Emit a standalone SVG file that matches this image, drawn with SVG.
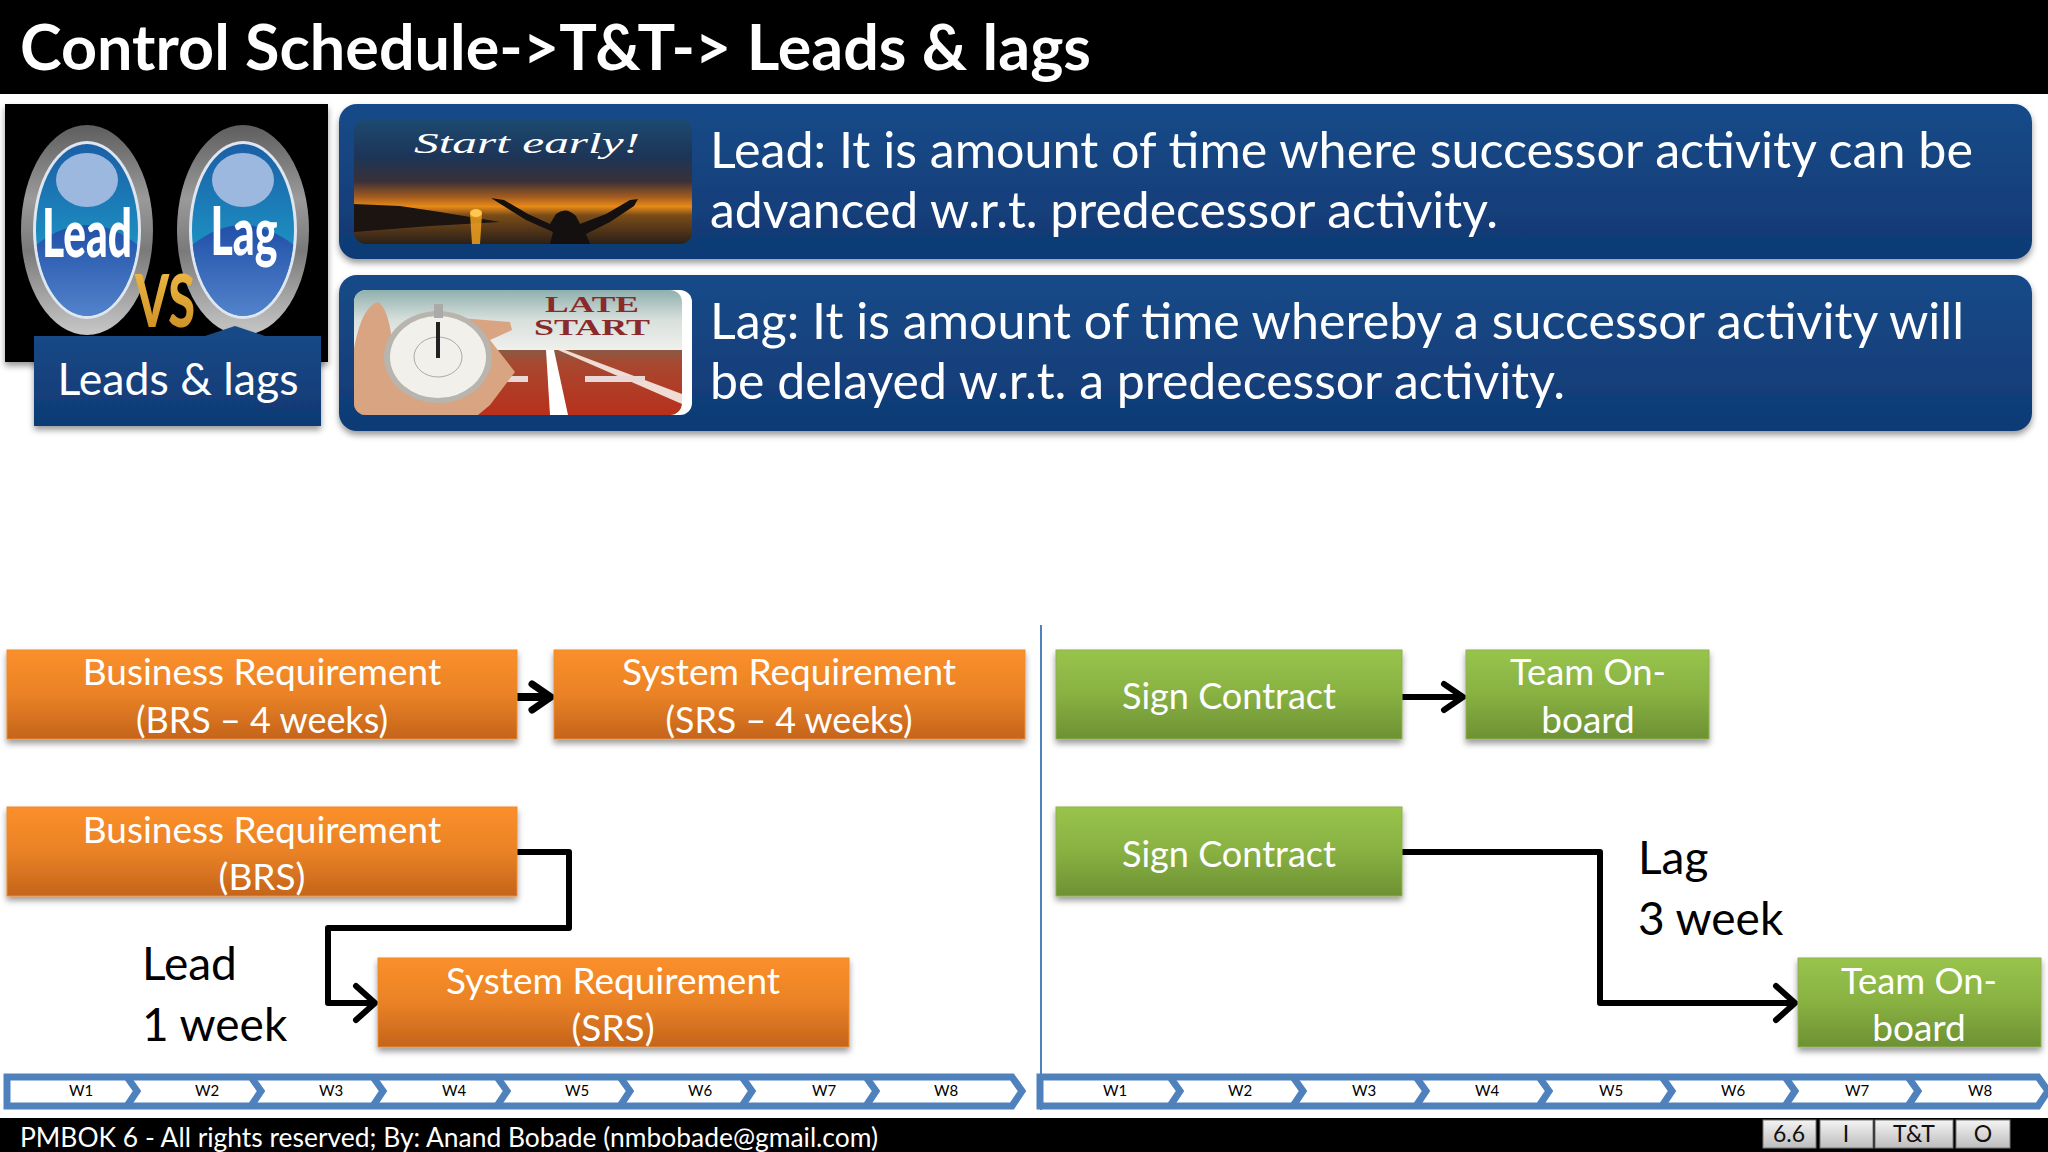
<svg xmlns="http://www.w3.org/2000/svg" width="2048" height="1152" viewBox="0 0 2048 1152">
<style>
text{font-family:"Lato","Open Sans","Liberation Sans",sans-serif}
.o{fill:url(#orange);stroke:#f08a2c;stroke-width:1;filter:url(#sh)}
.g{fill:url(#green);stroke:#90b050;stroke-width:1;filter:url(#sh)}
.bt{fill:#fff;font-size:37px;text-anchor:middle}
.pt{fill:#fff;font-size:50px}
.lb{fill:#000;font-size:46px}
.wk{fill:#000;font-size:15px;text-anchor:middle}
.tl{fill:#fff;stroke:#4f81bd;stroke-width:7}
.ch{fill:none;stroke:#4f81bd;stroke-width:7}
.cn{fill:none;stroke:#000;stroke-width:6;stroke-linejoin:round}
.ah{fill:none;stroke:#000;stroke-width:6;stroke-linecap:round;stroke-linejoin:miter}
.ft{fill:url(#btn);stroke:#777;stroke-width:1}
.ftt{fill:#111;font-size:23px;text-anchor:middle}
.sr{font-family:"Liberation Serif",serif}
</style>
<defs>
<linearGradient id="orange" x1="0" y1="0" x2="0" y2="1"><stop offset="0" stop-color="#fb8f2a"/><stop offset=".5" stop-color="#ea8226"/><stop offset="1" stop-color="#c4641b"/></linearGradient>
<linearGradient id="green" x1="0" y1="0" x2="0" y2="1"><stop offset="0" stop-color="#98c44c"/><stop offset=".5" stop-color="#88b142"/><stop offset="1" stop-color="#6d9133"/></linearGradient>
<linearGradient id="blue" x1="0" y1="0" x2="0" y2="1"><stop offset="0" stop-color="#174a88"/><stop offset="1" stop-color="#103a74"/></linearGradient>
<linearGradient id="btn" x1="0" y1="0" x2="0" y2="1"><stop offset="0" stop-color="#f4f4f4"/><stop offset="1" stop-color="#bdbdbd"/></linearGradient>
<linearGradient id="ring" x1="0" y1="0" x2="0" y2="1"><stop offset="0" stop-color="#5e5e5e"/><stop offset=".35" stop-color="#9a9a9a"/><stop offset=".6" stop-color="#7a7a7a"/><stop offset="1" stop-color="#c8c8c8"/></linearGradient>
<linearGradient id="ball" x1="0" y1="0" x2="0" y2="1"><stop offset="0" stop-color="#1b5fa6"/><stop offset=".55" stop-color="#1c8cc0"/><stop offset="1" stop-color="#1c8cc0"/></linearGradient>
<linearGradient id="ball2" x1="0" y1="0" x2="0" y2="1"><stop offset="0" stop-color="#2050a8"/><stop offset="1" stop-color="#5585cc"/></linearGradient>
<linearGradient id="vs" x1="0" y1="0" x2="0" y2="1"><stop offset="0" stop-color="#f4c04a"/><stop offset="1" stop-color="#c88a20"/></linearGradient>
<linearGradient id="sunset" x1="0" y1="0" x2="0" y2="1"><stop offset="0" stop-color="#1d4a70"/><stop offset=".3" stop-color="#1c3558"/><stop offset=".5" stop-color="#3a3038"/><stop offset=".62" stop-color="#a05a20"/><stop offset=".7" stop-color="#e88a18"/><stop offset=".77" stop-color="#7a4c18"/><stop offset="1" stop-color="#2a2018"/></linearGradient>
<linearGradient id="sky" x1="0" y1="0" x2="0" y2="1"><stop offset="0" stop-color="#8fb0ae"/><stop offset=".5" stop-color="#d8e0dc"/><stop offset="1" stop-color="#f0f0ec"/></linearGradient>
<linearGradient id="track" x1="0" y1="0" x2="0" y2="1"><stop offset="0" stop-color="#8a5a44"/><stop offset=".2" stop-color="#a84830"/><stop offset="1" stop-color="#b8301c"/></linearGradient>
<filter id="sh" x="-5%" y="-10%" width="110%" height="125%"><feDropShadow dx="0" dy="4" stdDeviation="3" flood-color="#000" flood-opacity=".4"/></filter>
<clipPath id="c1"><rect x="354" y="119" width="338" height="125" rx="12"/></clipPath>
<clipPath id="c2"><rect x="354" y="290" width="328" height="125" rx="12"/></clipPath>
<clipPath id="b1"><ellipse cx="87" cy="230" rx="51" ry="86"/></clipPath>
<clipPath id="b2"><ellipse cx="243" cy="230" rx="51" ry="86"/></clipPath>
</defs>
<rect width="2048" height="1152" fill="#fff"/>
<g id="title"><rect width="2048" height="94" fill="#000"/><text x="20" y="70" fill="#fff" font-size="63" font-weight="700" textLength="1071" lengthAdjust="spacingAndGlyphs">Control Schedule-&gt;T&amp;T-&gt; Leads &amp; lags</text></g>
<g id="lead-vs-lag">
<rect x="5" y="104" width="323" height="258" fill="#000" filter="url(#sh)"/>
<ellipse cx="87" cy="230" rx="66" ry="105" fill="url(#ring)"/><ellipse cx="87" cy="230" rx="54" ry="89" fill="#dfe6f0"/><ellipse cx="87" cy="230" rx="51" ry="86" fill="url(#ball)"/>
<path clip-path="url(#b1)" d="M30 250Q87 200 144 250V320H30Z" fill="url(#ball2)"/><ellipse cx="87" cy="180" rx="31" ry="27" fill="#9db8de"/>
<ellipse cx="243" cy="230" rx="66" ry="105" fill="url(#ring)"/><ellipse cx="243" cy="230" rx="54" ry="89" fill="#dfe6f0"/><ellipse cx="243" cy="230" rx="51" ry="86" fill="url(#ball)"/>
<path clip-path="url(#b2)" d="M186 250Q243 200 300 250V320H186Z" fill="url(#ball2)"/><ellipse cx="243" cy="180" rx="31" ry="27" fill="#9db8de"/>
<text x="87" y="257" fill="#fff" font-size="66" font-weight="900" text-anchor="middle" textLength="90" lengthAdjust="spacingAndGlyphs">Lead</text>
<text x="244" y="255" fill="#fff" font-size="66" font-weight="900" text-anchor="middle" textLength="67" lengthAdjust="spacingAndGlyphs">Lag</text>
<text x="165" y="327" fill="url(#vs)" font-size="72" font-weight="900" text-anchor="middle" textLength="60" lengthAdjust="spacingAndGlyphs">VS</text>
</g>
<g id="leads-lags-label"><path d="M34 336H205L235 326L265 336H321V426H34Z" fill="url(#blue)" filter="url(#sh)"/><text x="178" y="395" fill="#fff" font-size="45" text-anchor="middle" textLength="241" lengthAdjust="spacingAndGlyphs">Leads &amp; lags</text></g>
<g id="lead-panel"><rect x="339" y="104" width="1693" height="155" rx="18" fill="url(#blue)" filter="url(#sh)"/>
<g clip-path="url(#c1)"><rect x="354" y="119" width="338" height="125" fill="url(#sunset)"/>
<path d="M354 204L400 206L440 212L500 222L430 226L354 232Z" fill="#1c1410"/><path d="M470 214H482L480 244H472Z" fill="#f0a020" opacity=".85"/><ellipse cx="476" cy="213" rx="6" ry="4" fill="#ffc850"/>
<path d="M491 198L504 200L528 214L550 224L556 214Q566 206 576 216L580 224L606 214L630 200L638 199L634 206L610 222L586 234L590 244H550L553 232L526 220Z" fill="#141010"/></g>
<text x="527" y="153" fill="#fff" font-size="30" font-style="italic" text-anchor="middle" textLength="226" lengthAdjust="spacingAndGlyphs" class="sr">Start early!</text>
<text x="710" y="168" class="pt" textLength="1263" lengthAdjust="spacingAndGlyphs">Lead: It is amount of time where successor activity can be</text><text x="710" y="228" class="pt" textLength="788" lengthAdjust="spacingAndGlyphs">advanced w.r.t. predecessor activity.</text></g>
<g id="lag-panel"><rect x="339" y="275" width="1693" height="156" rx="18" fill="url(#blue)" filter="url(#sh)"/>
<rect x="354" y="290" width="338" height="125" rx="12" fill="#fff"/>
<g clip-path="url(#c2)"><rect x="354" y="290" width="328" height="60" fill="url(#sky)"/><path d="M354 350H682V415H354Z" fill="url(#track)"/><path d="M546 350H554L568 415H550Z" fill="#fff"/><path d="M565 350L682 394V404L558 350Z" fill="#efdcd4"/><rect x="500" y="376" width="28" height="6" fill="#e8d8d8"/><rect x="585" y="376" width="60" height="6" fill="#e8d8d8"/>
<path d="M354 415V348Q362 306 378 302Q388 308 392 340L460 318L510 322L512 330L490 340L515 372L490 405L478 415Z" fill="#d9a482"/></g>
<ellipse cx="438" cy="357" rx="54" ry="46" fill="#b8b4ae"/><ellipse cx="438" cy="357" rx="48" ry="41" fill="#f2f0ea"/><ellipse cx="438" cy="357" rx="24" ry="20" fill="none" stroke="#aaa"/><rect x="436" y="322" width="4" height="36" fill="#222"/><rect x="434" y="304" width="9" height="14" fill="#aaa"/>
<text x="592" y="312" fill="#8a2a2a" font-size="23" font-weight="700" text-anchor="middle" textLength="94" lengthAdjust="spacingAndGlyphs" class="sr">LATE</text><text x="592" y="335" fill="#8a2a2a" font-size="23" font-weight="700" text-anchor="middle" textLength="116" lengthAdjust="spacingAndGlyphs" class="sr">START</text>
<text x="710" y="339" class="pt" textLength="1254" lengthAdjust="spacingAndGlyphs">Lag: It is amount of time whereby a successor activity will</text><text x="710" y="399" class="pt" textLength="855" lengthAdjust="spacingAndGlyphs">be delayed w.r.t. a predecessor activity.</text></g>
<g id="connectors">
<line x1="1041" y1="625" x2="1041" y2="1110" stroke="#4f81bd" stroke-width="2"/>
<path class="cn" style="stroke-width:8" d="M517 697H551"/><path class="ah" style="stroke-width:7" d="M532 684L551 697L532 710"/>
<path class="cn" d="M517 852H569V928H328V1003H375"/><path class="ah" d="M356 986L375 1003L356 1020"/>
<path class="cn" d="M1402 697H1463"/><path class="ah" d="M1444 684L1463 697L1444 710"/>
<path class="cn" d="M1402 852H1600V1003H1795"/><path class="ah" d="M1776 986L1795 1003L1776 1020"/>
</g>
<g id="brs1"><rect class="o" x="7" y="650" width="510" height="89"/><text class="bt" x="262" y="685">Business Requirement</text><text class="bt" x="262" y="733" textLength="252" lengthAdjust="spacingAndGlyphs">(BRS – 4 weeks)</text></g>
<g id="srs1"><rect class="o" x="554" y="650" width="471" height="89"/><text class="bt" x="789" y="685">System Requirement</text><text class="bt" x="789" y="733" textLength="247" lengthAdjust="spacingAndGlyphs">(SRS – 4 weeks)</text></g>
<g id="brs2"><rect class="o" x="7" y="807" width="510" height="89"/><text class="bt" x="262" y="843">Business Requirement</text><text class="bt" x="262" y="890">(BRS)</text></g>
<g id="srs2"><rect class="o" x="378" y="958" width="471" height="89"/><text class="bt" x="613" y="994">System Requirement</text><text class="bt" x="613" y="1041">(SRS)</text></g>
<g id="sign1"><rect class="g" x="1056" y="650" width="346" height="89"/><text class="bt" x="1229" y="709" textLength="214" lengthAdjust="spacingAndGlyphs">Sign Contract</text></g>
<g id="team1"><rect class="g" x="1466" y="650" width="243" height="89"/><text class="bt" x="1588" y="685" textLength="156" lengthAdjust="spacingAndGlyphs">Team On-</text><text class="bt" x="1588" y="733">board</text></g>
<g id="sign2"><rect class="g" x="1056" y="807" width="346" height="89"/><text class="bt" x="1229" y="867" textLength="214" lengthAdjust="spacingAndGlyphs">Sign Contract</text></g>
<g id="team2"><rect class="g" x="1798" y="958" width="243" height="89"/><text class="bt" x="1919" y="994" textLength="156" lengthAdjust="spacingAndGlyphs">Team On-</text><text class="bt" x="1919" y="1041">board</text></g>
<g id="lead-label"><text class="lb" x="142" y="980">Lead</text><text class="lb" x="142" y="1041">1 week</text></g>
<g id="lag-label"><text class="lb" x="1638" y="874">Lag</text><text class="lb" x="1638" y="935">3 week</text></g>
<g id="timeline-left"><path class="tl" d="M7 1077H1012L1022 1091L1012 1106H7Z"/>
<path class="ch" d="M127 1077L137 1091L127 1106M251 1077L261 1091L251 1106M373 1077L383 1091L373 1106M497 1077L507 1091L497 1106M620 1077L630 1091L620 1106M742 1077L752 1091L742 1106M866 1077L876 1091L866 1106"/>
<text class="wk" x="81" y="1096">W1</text><text class="wk" x="207" y="1096">W2</text><text class="wk" x="331" y="1096">W3</text><text class="wk" x="454" y="1096">W4</text><text class="wk" x="577" y="1096">W5</text><text class="wk" x="700" y="1096">W6</text><text class="wk" x="824" y="1096">W7</text><text class="wk" x="946" y="1096">W8</text></g>
<g id="timeline-right"><path class="tl" d="M1040 1077H2038L2048 1091L2038 1106H1040Z"/>
<path class="ch" d="M1170 1077L1180 1091L1170 1106M1293 1077L1303 1091L1293 1106M1416 1077L1426 1091L1416 1106M1539 1077L1549 1091L1539 1106M1662 1077L1672 1091L1662 1106M1785 1077L1795 1091L1785 1106M1908 1077L1918 1091L1908 1106"/>
<text class="wk" x="1115" y="1096">W1</text><text class="wk" x="1240" y="1096">W2</text><text class="wk" x="1364" y="1096">W3</text><text class="wk" x="1487" y="1096">W4</text><text class="wk" x="1611" y="1096">W5</text><text class="wk" x="1733" y="1096">W6</text><text class="wk" x="1857" y="1096">W7</text><text class="wk" x="1980" y="1096">W8</text></g>
<g id="footer"><rect y="1118" width="2048" height="34" fill="#000"/><text x="20" y="1147" fill="#fff" font-size="27" textLength="858" lengthAdjust="spacingAndGlyphs">PMBOK 6 - All rights reserved; By: Anand Bobade (nmbobade@gmail.com)</text>
<rect class="ft" x="1763" y="1120" width="53" height="28"/><text class="ftt" x="1789" y="1142">6.6</text>
<rect class="ft" x="1820" y="1120" width="53" height="28"/><text class="ftt" x="1846" y="1142">I</text>
<rect class="ft" x="1875" y="1120" width="78" height="28"/><text class="ftt" x="1914" y="1142">T&amp;T</text>
<rect class="ft" x="1956" y="1120" width="54" height="28"/><text class="ftt" x="1983" y="1142">O</text></g>
</svg>
